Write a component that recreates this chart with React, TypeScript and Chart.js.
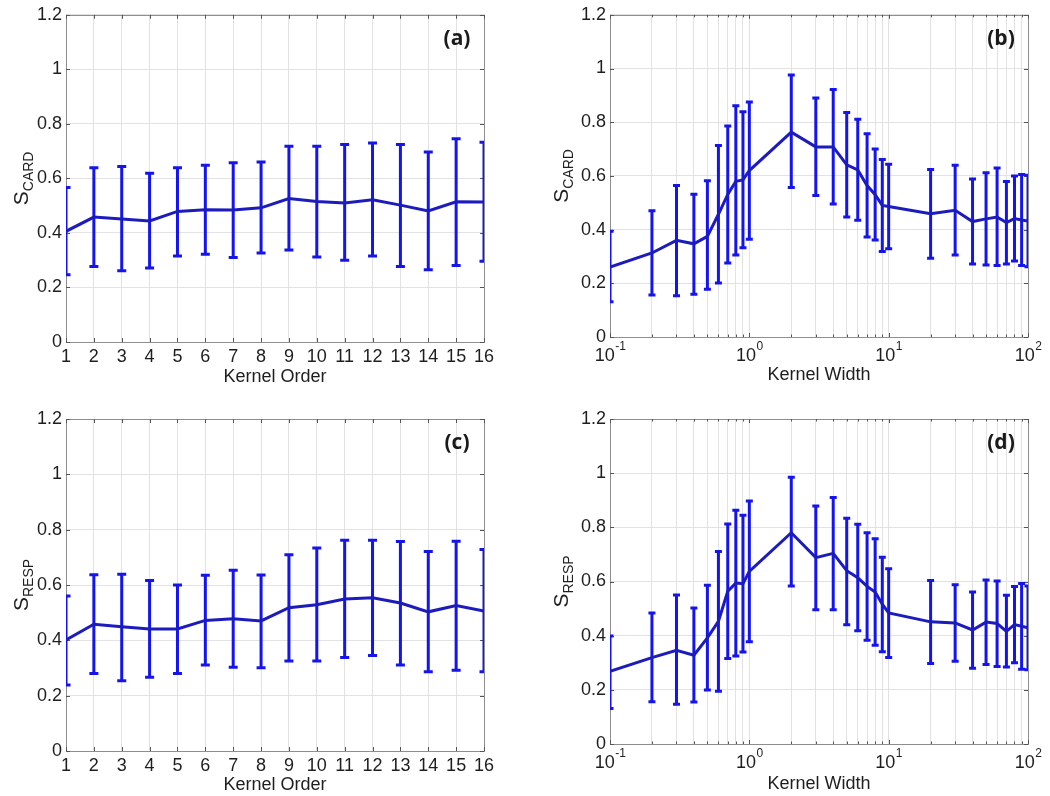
import React, { useEffect, useRef } from 'react';
import { Chart, registerables } from 'chart.js';

Chart.register(...registerables);

// ---------------- data ----------------
const kernelOrders = [1, 2, 3, 4, 5, 6, 7, 8, 9, 10, 11, 12, 13, 14, 15, 16];

const cardOrderMean = [0.406, 0.458, 0.451, 0.444, 0.479, 0.485, 0.484, 0.492, 0.526, 0.515, 0.510, 0.522, 0.502, 0.481, 0.514, 0.513];
const cardOrderUpper = [0.567, 0.639, 0.644, 0.619, 0.639, 0.648, 0.657, 0.660, 0.718, 0.718, 0.724, 0.730, 0.724, 0.697, 0.745, 0.733];
const cardOrderLower = [0.247, 0.277, 0.261, 0.271, 0.315, 0.322, 0.310, 0.326, 0.337, 0.312, 0.300, 0.315, 0.277, 0.265, 0.281, 0.296];

const respOrderMean = [0.401, 0.458, 0.449, 0.441, 0.441, 0.472, 0.478, 0.470, 0.518, 0.529, 0.549, 0.554, 0.535, 0.503, 0.526, 0.506];
const respOrderUpper = [0.560, 0.637, 0.639, 0.616, 0.600, 0.635, 0.653, 0.636, 0.709, 0.734, 0.762, 0.762, 0.757, 0.721, 0.758, 0.728];
const respOrderLower = [0.239, 0.280, 0.254, 0.267, 0.280, 0.311, 0.303, 0.301, 0.325, 0.325, 0.338, 0.345, 0.311, 0.286, 0.292, 0.286];

const kernelWidths = [0.1, 0.2, 0.3, 0.4, 0.5, 0.6, 0.7, 0.8, 0.9, 1, 2, 3, 4, 5, 6, 7, 8, 9, 10, 20, 30, 40, 50, 60, 70, 80, 90, 100];

const cardWidthMean = [0.260, 0.313, 0.360, 0.347, 0.375, 0.457, 0.531, 0.580, 0.585, 0.620, 0.763, 0.708, 0.708, 0.641, 0.622, 0.564, 0.530, 0.490, 0.486, 0.459, 0.472, 0.430, 0.440, 0.447, 0.426, 0.441, 0.436, 0.432];
const cardWidthUpper = [0.394, 0.470, 0.564, 0.532, 0.582, 0.713, 0.786, 0.861, 0.839, 0.875, 0.976, 0.890, 0.922, 0.836, 0.811, 0.757, 0.700, 0.661, 0.643, 0.624, 0.640, 0.588, 0.612, 0.629, 0.579, 0.600, 0.605, 0.602];
const cardWidthLower = [0.131, 0.156, 0.154, 0.159, 0.178, 0.201, 0.276, 0.305, 0.332, 0.364, 0.557, 0.527, 0.495, 0.447, 0.435, 0.372, 0.361, 0.318, 0.329, 0.293, 0.305, 0.272, 0.268, 0.266, 0.272, 0.283, 0.266, 0.262];

const respWidthMean = [0.268, 0.319, 0.346, 0.328, 0.392, 0.453, 0.564, 0.594, 0.592, 0.637, 0.780, 0.688, 0.704, 0.640, 0.614, 0.582, 0.561, 0.516, 0.484, 0.451, 0.447, 0.421, 0.450, 0.445, 0.416, 0.441, 0.435, 0.429];
const respWidthUpper = [0.399, 0.484, 0.550, 0.502, 0.586, 0.711, 0.812, 0.863, 0.845, 0.897, 0.985, 0.879, 0.910, 0.834, 0.811, 0.780, 0.758, 0.690, 0.647, 0.604, 0.588, 0.561, 0.606, 0.602, 0.549, 0.582, 0.593, 0.583];
const respWidthLower = [0.131, 0.156, 0.147, 0.155, 0.199, 0.195, 0.316, 0.325, 0.340, 0.378, 0.583, 0.496, 0.496, 0.440, 0.418, 0.383, 0.365, 0.341, 0.319, 0.297, 0.306, 0.280, 0.294, 0.286, 0.284, 0.300, 0.276, 0.274];

const yTickLabels = ['0', '0.2', '0.4', '0.6', '0.8', '1', '1.2'];
const logDecadeTicks = [0.1, 1, 10, 100];
const logDecadeExponents = ['-1', '0', '1', '2'];
const logGridTicks = [0.1, 0.2, 0.3, 0.4, 0.5, 0.6, 0.7, 0.8, 0.9, 1, 2, 3, 4, 5, 6, 7, 8, 9, 10, 20, 30, 40, 50, 60, 70, 80, 90, 100];

// ---------------- styles ----------------
const FONT = '"Liberation Sans", Arial, sans-serif';
const TEXT = '#1e1e1e';
const LINE_COLOR = '#1c1cbc';
const ERR_COLOR = '#1414ee';
const GRID = '#e2e2e2';
const BOX = '#8e8e8e';

type Panel = {
  left: number; top: number; w: number; h: number;
  area: { L: number; R: number; T: number; B: number };
  log: boolean;
  xs: number[]; mean: number[]; upper: number[]; lower: number[];
  sub: string; xTitle: string; tag: string; titlePad: number; cap: number; titleOff: number;
};

const panels: Panel[] = [
  { left: 0, top: 0, w: 525, h: 396, area: { L: 66, R: 484, T: 11, B: 342 }, log: false,
    xs: kernelOrders, mean: cardOrderMean, upper: cardOrderUpper, lower: cardOrderLower,
    sub: 'CARD', xTitle: 'Kernel Order', tag: '(a)', titlePad: 8.5, cap: 9, titleOff: 38 },
  { left: 525, top: 0, w: 525, h: 396, area: { L: 85, R: 503, T: 11, B: 337 }, log: true,
    xs: kernelWidths, mean: cardWidthMean, upper: cardWidthUpper, lower: cardWidthLower,
    sub: 'CARD', xTitle: 'Kernel Width', tag: '(b)', titlePad: 10, cap: 7, titleOff: 42 },
  { left: 0, top: 396, w: 525, h: 400, area: { L: 66, R: 484, T: 23, B: 355 }, log: false,
    xs: kernelOrders, mean: respOrderMean, upper: respOrderUpper, lower: respOrderLower,
    sub: 'RESP', xTitle: 'Kernel Order', tag: '(c)', titlePad: 0.5, cap: 9, titleOff: 38 },
  { left: 525, top: 396, w: 525, h: 400, area: { L: 85, R: 503, T: 23, B: 348 }, log: true,
    xs: kernelWidths, mean: respWidthMean, upper: respWidthUpper, lower: respWidthLower,
    sub: 'RESP', xTitle: 'Kernel Width', tag: '(d)', titlePad: 1.5, cap: 7, titleOff: 42 },
];

function makePlugin(p: Panel) {
  return {
    id: 'panelDeco',
    beforeDatasetsDraw(chart: any) {
      const { ctx, chartArea: ca } = chart;
      const x = chart.scales.x;
      const y = chart.scales.y;
      ctx.save();
      // box
      ctx.strokeStyle = BOX;
      ctx.lineWidth = 1;
      ctx.strokeRect(Math.round(ca.left) + 0.5, Math.round(ca.top) + 0.5,
        Math.round(ca.right - ca.left), Math.round(ca.bottom - ca.top));
      // inward tick marks
      ctx.strokeStyle = '#555555';
      ctx.beginPath();
      y.ticks.forEach((t: any) => {
        const py = Math.round(y.getPixelForValue(t.value)) + 0.5;
        ctx.moveTo(ca.left, py); ctx.lineTo(ca.left + 4, py);
        ctx.moveTo(ca.right, py); ctx.lineTo(ca.right - 4, py);
      });
      x.ticks.forEach((t: any) => {
        const px = Math.round(x.getPixelForValue(t.value)) + 0.5;
        const len = p.log && !logDecadeTicks.includes(t.value) ? 2.5 : 4;
        ctx.moveTo(px, ca.bottom); ctx.lineTo(px, ca.bottom - len);
        ctx.moveTo(px, ca.top); ctx.lineTo(px, ca.top + len);
      });
      ctx.stroke();
      // error bars
      ctx.beginPath();
      ctx.rect(ca.left, ca.top, ca.right - ca.left, ca.bottom - ca.top);
      ctx.clip();
      ctx.strokeStyle = ERR_COLOR;
      ctx.lineWidth = 3;
      ctx.lineCap = 'butt';
      const hw = p.cap / 2;
      p.xs.forEach((xv, i) => {
        const px = x.getPixelForValue(xv);
        const pl = y.getPixelForValue(p.lower[i]);
        const pu = y.getPixelForValue(p.upper[i]);
        ctx.beginPath();
        ctx.moveTo(px, pl); ctx.lineTo(px, pu);
        ctx.moveTo(px - hw, pl); ctx.lineTo(px + hw, pl);
        ctx.moveTo(px - hw, pu); ctx.lineTo(px + hw, pu);
        ctx.stroke();
      });
      ctx.restore();
    },
    afterDraw(chart: any) {
      const { ctx, chartArea: ca } = chart;
      const x = chart.scales.x;
      ctx.save();
      ctx.fillStyle = TEXT;
      // y-axis title with subscript
      const yc = (ca.top + ca.bottom) / 2;
      const baseX = ca.left - p.titleOff;
      ctx.translate(baseX, yc);
      ctx.rotate(-Math.PI / 2);
      ctx.font = `21px ${FONT}`;
      const wS = ctx.measureText('S').width;
      ctx.font = `14px ${FONT}`;
      const wSub = ctx.measureText(p.sub).width;
      const start = -(wS + wSub) / 2;
      ctx.textBaseline = 'alphabetic';
      ctx.textAlign = 'left';
      ctx.font = `21px ${FONT}`;
      ctx.fillText('S', start, 0);
      ctx.font = `14px ${FONT}`;
      ctx.fillText(p.sub, start + wS, 5);
      ctx.setTransform(1, 0, 0, 1, 0, 0);
      // panel tag
      ctx.font = `bold 21px "Open Sans", ${FONT}`;
      ctx.textAlign = 'center';
      ctx.textBaseline = 'middle';
      ctx.fillStyle = '#1a1a1a';
      ctx.fillText(p.tag, ca.right - 27, ca.top + 24);
      // log decade labels with superscripts
      if (p.log) {
        ctx.fillStyle = TEXT;
        logDecadeTicks.forEach((v, i) => {
          const px = x.getPixelForValue(v);
          ctx.font = `18px ${FONT}`;
          const w1 = ctx.measureText('10').width;
          ctx.font = `12px ${FONT}`;
          const w2 = ctx.measureText(logDecadeExponents[i]).width;
          const s = px - (w1 + w2) / 2;
          const cy = ca.bottom + 19;
          ctx.textAlign = 'left';
          ctx.textBaseline = 'middle';
          ctx.font = `18px ${FONT}`;
          ctx.fillText('10', s, cy);
          ctx.font = `12px ${FONT}`;
          ctx.fillText(logDecadeExponents[i], s + w1 + 0.5, cy - 9);
        });
      }
      ctx.restore();
    },
  };
}

function PanelChart({ p }: { p: Panel }) {
  const ref = useRef<HTMLCanvasElement | null>(null);
  useEffect(() => {
    if (!ref.current) return;
    const xScale: any = p.log
      ? {
          type: 'logarithmic', min: 0.1, max: 100,
          afterBuildTicks: (s: any) => { s.ticks = logGridTicks.map((v) => ({ value: v })); },
          ticks: { callback: () => '', autoSkip: false, maxRotation: 0 },
        }
      : {
          type: 'linear', min: 1, max: 16,
          ticks: { stepSize: 1, autoSkip: false, maxRotation: 0, padding: 4,
            color: TEXT, font: { family: FONT, size: 18 } },
        };
    xScale.grid = { color: GRID, lineWidth: 1, drawTicks: false };
    xScale.border = { display: false };
    xScale.title = { display: true, text: p.xTitle, color: TEXT,
      font: { family: FONT, size: 18 }, padding: { top: 0, bottom: p.titlePad } };
    xScale.afterFit = (s: any) => { s.height = p.h - p.area.B; };

    const chart = new Chart(ref.current, {
      type: 'line',
      data: {
        datasets: [{
          data: p.xs.map((xv, i) => ({ x: xv, y: p.mean[i] })),
          borderColor: LINE_COLOR,
          borderWidth: 3,
          pointRadius: 0,
          fill: false,
          tension: 0,
        }],
      },
      options: {
        responsive: false,
        animation: false,
        events: [],
        layout: { padding: { left: 0, top: p.area.T, right: p.w - p.area.R, bottom: 0 } },
        plugins: { legend: { display: false }, tooltip: { enabled: false }, title: { display: false } },
        scales: {
          x: xScale,
          y: {
            type: 'linear', min: 0, max: 1.2,
            ticks: {
              stepSize: 0.2, padding: 4, color: TEXT,
              font: { family: FONT, size: 18 },
              callback: (v: any) => yTickLabels[Math.round(Number(v) / 0.2)] ?? '',
            },
            grid: { color: GRID, lineWidth: 1, drawTicks: false },
            border: { display: false },
            afterFit: (s: any) => { s.width = p.area.L; },
          },
        },
      },
      plugins: [makePlugin(p)],
    } as any);
    return () => chart.destroy();
  }, [p]);
  return (
    <canvas
      ref={ref}
      width={p.w}
      height={p.h}
      style={{ position: 'absolute', left: p.left, top: p.top, width: p.w, height: p.h }}
    />
  );
}

export default function App() {
  return (
    <div style={{ position: 'absolute', left: 0, top: 0, width: 1050, height: 796, background: '#ffffff', overflow: 'hidden' }}>
      {panels.map((p) => (
        <PanelChart key={p.tag} p={p} />
      ))}
    </div>
  );
}
